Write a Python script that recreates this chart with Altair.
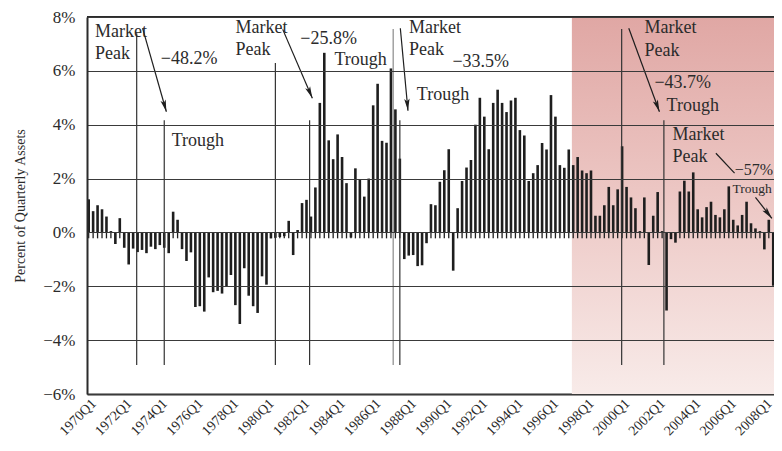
import math
import altair as alt
import pandas as pd

# ---------------- data ----------------
quarter_index = list(range(155))
quarter_labels = [f"{1970 + q // 4}Q{q % 4 + 1}" for q in quarter_index]
flows = [1.23, 0.79, 1.01, 0.86, 0.59, 0.05, -0.43, 0.53, -0.57, -1.19,
         -0.60, -0.73, -0.65, -0.77, -0.53, -0.62, -0.47, -0.57, -0.77, 0.77,
         0.47, -0.62, -1.06, -0.74, -2.77, -2.74, -2.94, -1.67, -2.22, -2.17,
         -2.27, -2.02, -1.58, -2.70, -3.40, -1.33, -2.35, -2.74, -2.99, -1.63,
         -1.94, -0.22, -0.20, -0.17, -0.14, 0.43, -0.84, 0.09, 1.09, 1.21,
         0.59, 1.67, 4.81, 6.67, 3.42, 2.72, 3.64, 2.80, 1.83, -0.19,
         2.38, 1.95, 1.33, 2.00, 4.72, 5.52, 3.40, 3.33, 6.09, 4.57,
         2.74, -0.99, -0.86, -0.84, -1.25, -1.22, -0.40, 1.05, 1.01, 1.88,
         2.31, 3.09, -1.42, 0.90, 1.91, 2.41, 2.69, 4.00, 5.00, 4.30,
         3.09, 4.81, 5.30, 4.81, 4.47, 4.90, 5.00, 3.80, 3.60, 1.91,
         2.20, 2.50, 3.32, 3.08, 5.10, 4.30, 2.50, 2.40, 3.08, 2.50,
         2.80, 2.30, 2.20, 2.30, 0.62, 0.62, 1.01, 1.69, 1.01, 1.60,
         3.20, 1.69, 1.30, 0.90, 0.05, 1.30, -1.21, 0.62, 1.50, 0.05,
         -2.90, -0.25, -0.38, 1.52, 1.92, 1.52, 2.23, 0.86, 0.56, 0.94,
         1.14, 0.65, 0.56, 0.86, 1.71, 0.47, 0.26, 0.65, 1.14, 0.34,
         0.15, 0.05, -0.63, 0.47, -1.98]

y_ticks = [-6, -4, -2, 0, 2, 4, 6, 8]
x_tick_quarters = list(range(0, 153, 8))

# shaded period (quarter index)
shade_start = 108.7

# peak / trough marker lines: quarter index, top value
marker_x = [10.8, 17.0, 42.0, 49.7, 68.5, 70.0, 119.9, 129.4]
marker_top = [7.40, 4.17, 6.29, 4.17, 7.55, 4.17, 7.55, 4.17]
marker_bottom = -4.92
marker_color = ["#333333", "#333333", "#333333", "#333333", "#8a8a8a",
                "#333333", "#333333", "#333333"]

# arrows (start x, start y, end x, end y, has head)
arrow_x1 = [12.14, 43.65, 70.11, 121.5, 150.0, 141.1]
arrow_y1 = [7.58, 7.54, 7.58, 7.58, 1.30, 2.94]
arrow_x2 = [17.48, 50.32, 71.83, 128.4, 153.7, 145.3]
arrow_y2 = [4.48, 4.98, 4.52, 4.48, 0.52, 2.20]
arrow_head = [True, True, True, True, True, False]

# annotation texts
note_text = ["Market", "Peak", "\u221248.2%", "Trough",
             "Market", "Peak", "\u221225.8%", "Trough",
             "Market", "Peak", "Trough", "\u221233.5%",
             "Market", "Peak", "\u221243.7%", "Trough",
             "Market", "Peak", "\u221257%", "Trough"]
note_x = [1.40, 1.40, 16.23, 18.68,
          33.04, 33.04, 47.59, 55.28,
          72.05, 72.05, 73.83, 81.83,
          125.04, 125.04, 127.26, 130.0,
          131.33, 131.33, 145.34, 144.83]
note_y = [7.27, 6.43, 6.24, 3.21,
          7.39, 6.59, 6.98, 6.22,
          7.39, 6.59, 4.92, 6.15,
          7.39, 6.55, 5.35, 4.51,
          3.43, 2.63, 2.13, 1.45]
note_size = [18] * 18 + [16, 13.5]

# ---------------- layout ----------------
W, H = 687, 377
X_DOMAIN = [-0.378, 154.17]
Y_DOMAIN = [-6, 8]
kx = W / (X_DOMAIN[1] - X_DOMAIN[0])
ky = H / (Y_DOMAIN[1] - Y_DOMAIN[0])
FONT = "Liberation Serif"
INK = "#2b2b2b"

xs = alt.Scale(domain=X_DOMAIN, nice=False, zero=False, padding=0)
ys = alt.Scale(domain=Y_DOMAIN, nice=False, zero=False, padding=0)

x_axis = alt.Axis(
    values=x_tick_quarters, labelExpr="(1970 + datum.value/4) + 'Q1'",
    labelAngle=315, labelAlign="right", labelBaseline="top",
    ticks=False, grid=False, domain=True, domainColor=INK, domainWidth=2,
    labelFont=FONT, labelFontSize=14, labelColor=INK, labelPadding=2,
    labelOverlap=False, labelFlush=False, title="")
y_axis = alt.Axis(
    values=y_ticks,
    labelExpr="datum.value < 0 ? '\u2212' + (-datum.value) + '%' : datum.value + '%'",
    grid=True, gridColor="#3a3a3a", gridWidth=1, gridOpacity=1,
    ticks=False, domain=True, domainColor=INK, domainWidth=2,
    labelFont=FONT, labelFontSize=17, labelColor=INK, labelPadding=12,
    title="Percent of Quarterly Assets", titleFont=FONT, titleFontSize=14,
    titleFontWeight="normal", titleColor=INK, titlePadding=15, zindex=1)


def X(field):
    return alt.X(field, scale=xs, axis=x_axis)


def Y(field):
    return alt.Y(field, scale=ys, axis=y_axis)


bars_df = pd.DataFrame({"x": quarter_index, "y": flows, "quarter": quarter_labels})
bars_df["z"] = 0.0
bars_df["t"] = -0.22

shade = alt.Chart(pd.DataFrame({"x": [shade_start], "x2": [X_DOMAIN[1]],
                                "y": [Y_DOMAIN[0]], "y2": [Y_DOMAIN[1]]})).mark_rect(
    fill=alt.Gradient(gradient="linear", x1=0, y1=0, x2=0, y2=1,
                      stops=[alt.GradientStop(color="#e0a7a4", offset=0),
                             alt.GradientStop(color="#edc9c6", offset=0.5),
                             alt.GradientStop(color="#f8ebe9", offset=1)])
).encode(x=X("x:Q"), x2="x2:Q", y=Y("y:Q"), y2="y2:Q")

bars = alt.Chart(bars_df).mark_bar(size=2.6, color="#1e1e1e").encode(
    x=X("x:Q"), y=Y("y:Q"))

combs = alt.Chart(bars_df).mark_rule(strokeWidth=1.3, color="#1e1e1e").encode(
    x=X("x:Q"), y=Y("z:Q"), y2="t:Q")

markers_df = pd.DataFrame({"x": marker_x, "y": marker_top,
                           "y2": [marker_bottom] * len(marker_x), "c": marker_color})
markers = alt.Chart(markers_df).mark_rule(strokeWidth=1.2).encode(
    x=X("x:Q"), y=Y("y:Q"), y2="y2:Q", color=alt.Color("c:N", scale=None))

arrows_df = pd.DataFrame({"x": arrow_x1, "y": arrow_y1, "x2": arrow_x2, "y2": arrow_y2})
arrow_lines = alt.Chart(arrows_df).mark_rule(strokeWidth=1.2, color="#1e1e1e").encode(
    x=X("x:Q"), y=Y("y:Q"), x2="x2:Q", y2="y2:Q")

HEAD_LEN = 12.0
hx, hy, ha = [], [], []
for x1, y1, x2, y2, h in zip(arrow_x1, arrow_y1, arrow_x2, arrow_y2, arrow_head):
    if not h:
        continue
    dx = (x2 - x1) * kx
    dy = -(y2 - y1) * ky
    n = math.hypot(dx, dy)
    ux, uy = dx / n, dy / n
    hx.append(x2 - (HEAD_LEN / 2) * ux / kx)
    hy.append(y2 + (HEAD_LEN / 2) * uy / ky)
    ha.append(math.degrees(math.atan2(-dx, dy)) % 360)
heads_df = pd.DataFrame({"x": hx, "y": hy, "a": ha})
heads = alt.Chart(heads_df).mark_point(
    shape="M0,1L-0.45,-1L0,-0.55L0.45,-1Z", filled=True, size=HEAD_LEN ** 2,
    color="#1e1e1e", opacity=1, strokeWidth=0).encode(
    x=X("x:Q"), y=Y("y:Q"), angle=alt.Angle("a:Q", scale=None))

notes_df = pd.DataFrame({"x": note_x, "y": note_y, "t": note_text, "s": note_size})
notes = alt.Chart(notes_df).mark_text(
    align="left", baseline="alphabetic", font=FONT, color=INK).encode(
    x=X("x:Q"), y=Y("y:Q"), text="t:N", size=alt.Size("s:Q", scale=None))

top_border = alt.Chart(pd.DataFrame({"y": [Y_DOMAIN[1]]})).mark_rule(
    strokeWidth=2, color=INK).encode(y=Y("y:Q"))

chart = alt.layer(shade, bars, combs, markers, arrow_lines, heads, notes, top_border).properties(
    width=W, height=H,
    padding={"left": 79, "top": 9, "right": 0, "bottom": 44},
    autosize=alt.AutoSizeParams(type="none"),
).configure_view(strokeWidth=0)

chart.save("out.html", embed_options={"renderer": "svg", "actions": False})
